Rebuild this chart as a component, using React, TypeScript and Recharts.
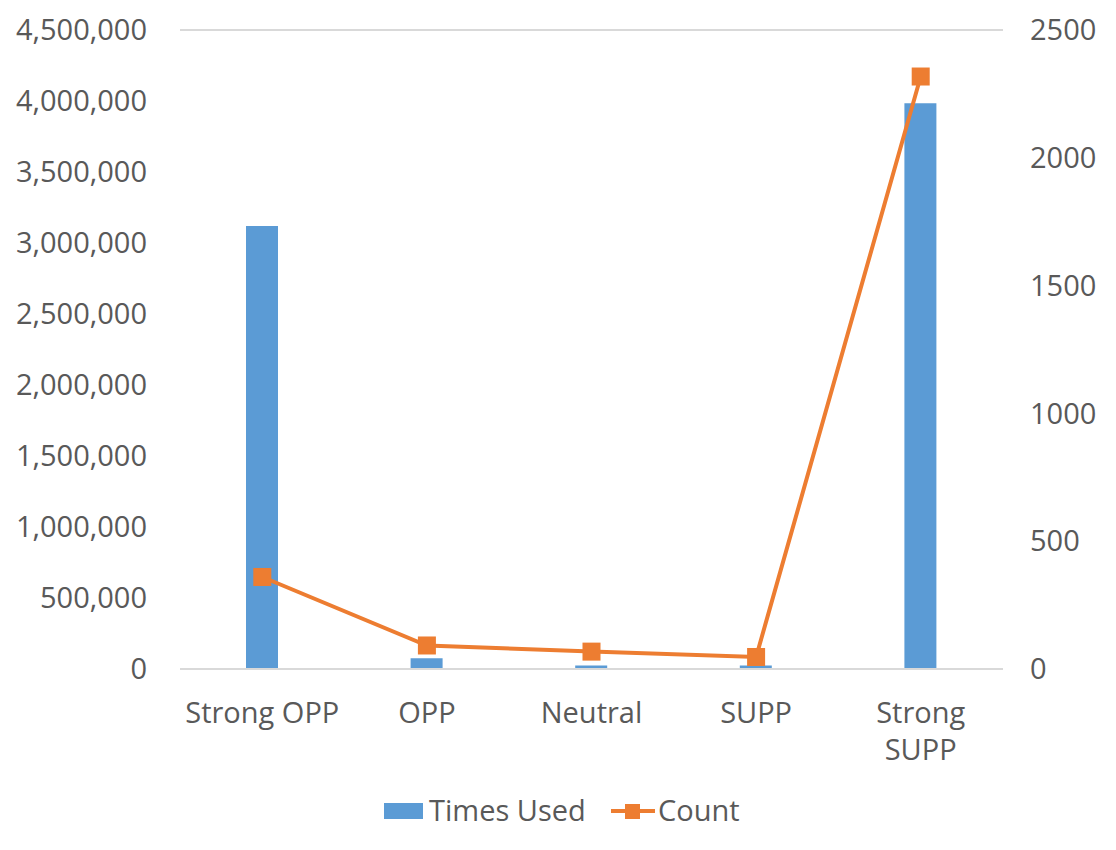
import {
  ComposedChart,
  Bar,
  Line,
  XAxis,
  YAxis,
  CartesianGrid,
  Legend,
} from "recharts";

const categories = ["Strong OPP", "OPP", "Neutral", "SUPP", "Strong SUPP"];
const timesUsed = [3120000, 75000, 25000, 25000, 3985000];
const counts = [360, 92, 68, 47, 2318];
const leftTicks = [0, 500000, 1000000, 1500000, 2000000, 2500000, 3000000, 3500000, 4000000, 4500000];
const rightTicks = [0, 500, 1000, 1500, 2000, 2500];
const wrappedLabels = ["Strong SUPP"];

const BLUE = "#5b9bd5";
const ORANGE = "#ed7d31";
const TEXT = "#595959";
const GRID = "#d9d9d9";
const FONT = "'Open Sans', sans-serif";
const FS = 29;

const data = categories.map((c, i) => ({
  name: c,
  used: timesUsed[i],
  count: counts[i],
}));

function CategoryTick({ x, y, payload }: any) {
  const label: string = payload.value;
  const lines = wrappedLabels.includes(label) ? label.split(" ") : [label];
  return (
    <text x={x} y={y} textAnchor="middle" fill={TEXT} fontSize={FS} fontFamily={FONT}>
      {lines.map((l, i) => (
        <tspan key={i} x={x} y={y + 48 + i * 37}>
          {l}
        </tspan>
      ))}
    </text>
  );
}

function SquareDot({ cx, cy, index }: any) {
  return <rect key={`dot-${index}`} x={cx - 9} y={cy - 9} width={18} height={18} fill={ORANGE} />;
}

function ChartLegend() {
  return (
    <svg width={1116} height={60}>
      <rect x={384} y={13} width={39} height={16} fill={BLUE} />
      <text x={429} y={31} fill={TEXT} fontSize={FS} fontFamily={FONT}>
        Times Used
      </text>
      <line x1={611} x2={655} y1={21} y2={21} stroke={ORANGE} strokeWidth={4} />
      <rect x={625} y={14} width={15} height={15} fill={ORANGE} />
      <text x={658} y={31} fill={TEXT} fontSize={FS} fontFamily={FONT}>
        Count
      </text>
    </svg>
  );
}

export default function App() {
  const tickStyle = { fontSize: FS, fill: TEXT, fontFamily: FONT };
  return (
    <div style={{ position: "absolute", left: 0, top: 0, background: "#fff", fontFamily: FONT }}>
      <ComposedChart
        width={1116}
        height={850}
        data={data}
        margin={{ top: 30, right: 0, left: 0, bottom: 0 }}
      >
        <CartesianGrid vertical={false} stroke={GRID} strokeWidth={2} />
        <XAxis
          dataKey="name"
          height={121}
          axisLine={{ stroke: GRID, strokeWidth: 2 }}
          tickLine={false}
          tickMargin={0}
          tick={<CategoryTick />}
          interval={0}
        />
        <YAxis
          yAxisId="left"
          width={180}
          domain={[0, 4500000]}
          ticks={leftTicks}
          axisLine={false}
          tickLine={false}
          tickMargin={27}
          tick={tickStyle}
          tickFormatter={(v: number) => v.toLocaleString("en-US")}
        />
        <YAxis
          yAxisId="right"
          orientation="right"
          width={113}
          domain={[0, 2500]}
          ticks={rightTicks}
          axisLine={false}
          tickLine={false}
          tickMargin={21}
          tick={tickStyle}
        />
        <Legend
          verticalAlign="bottom"
          height={60}
          wrapperStyle={{ left: 0, bottom: 0, width: 1116, height: 60 }}
          content={<ChartLegend />}
        />
        <Bar
          yAxisId="left"
          dataKey="used"
          name="Times Used"
          fill={BLUE}
          barSize={32}
          isAnimationActive={false}
        />
        <Line
          yAxisId="right"
          dataKey="count"
          name="Count"
          stroke={ORANGE}
          strokeWidth={4}
          dot={<SquareDot />}
          activeDot={false}
          isAnimationActive={false}
        />
      </ComposedChart>
    </div>
  );
}
